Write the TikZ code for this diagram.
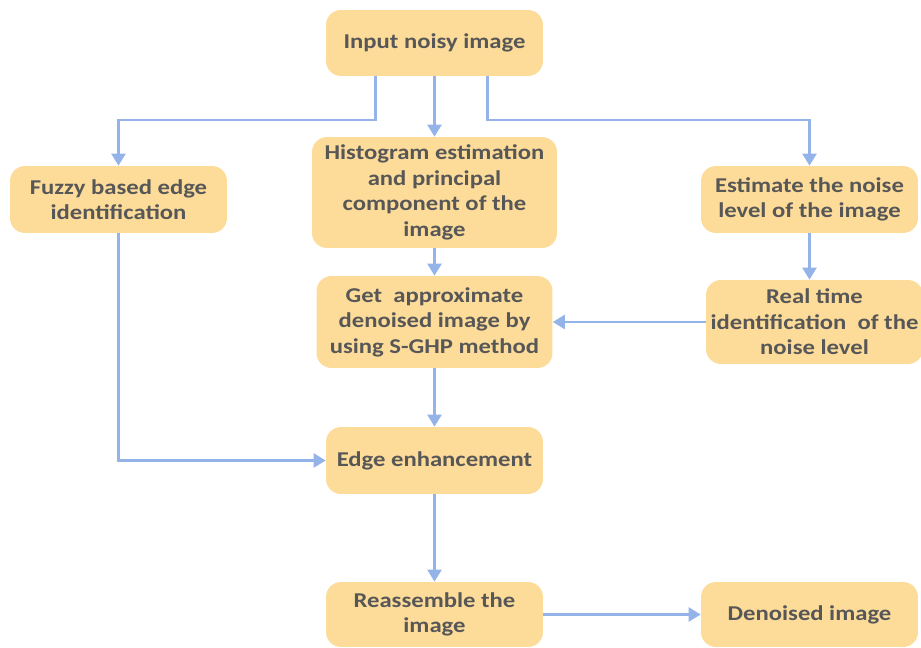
\documentclass[tikz,border=0pt]{standalone}
\usepackage{fontspec}
\setmainfont{Carlito}[FakeStretch=1.17]
\usetikzlibrary{arrows.meta}
\definecolor{boxfill}{HTML}{FDDC9A}
\definecolor{arrowblue}{HTML}{94B3E8}
\definecolor{textgray}{HTML}{575757}

\begin{document}
\begin{tikzpicture}[x=0.02cm,y=-0.02cm,
  box/.style={draw=none,fill=boxfill,rounded corners=0.3cm,align=center,
    text=textgray,font=\bfseries\fontsize{12}{14.5}\selectfont,inner sep=0},
  arr/.style={draw=arrowblue,line width=1.4pt,-{Triangle[length=0.24cm,width=0.28cm]}}]
\useasboundingbox (0,0) rectangle (921,648);

\node[box,minimum width=4.34cm,minimum height=1.32cm] (input) at (434.5,43) {Input noisy image};
\node[box,minimum width=4.34cm,minimum height=1.34cm] (fuzzy) at (118.5,199.5) {Fuzzy based edge\\identification};
\node[box,minimum width=4.9cm,minimum height=2.22cm] (hist) at (434.5,192.5) {Histogram estimation\\and principal\\component of the\\image};
\node[box,minimum width=4.34cm,minimum height=1.34cm] (est) at (809.5,199.5) {Estimate the noise\\level of the image};
\node[box,minimum width=4.72cm,minimum height=1.84cm] (ghp) at (434.5,322) {Get~ approximate\\denoised image by\\using S-GHP method};
\node[box,minimum width=4.34cm,minimum height=1.68cm] (real) at (814.5,322) {Real time\\identification~ of the\\noise level};
\node[box,minimum width=4.34cm,minimum height=1.34cm] (edge) at (434.5,460.5) {Edge enhancement};
\node[box,minimum width=4.34cm,minimum height=1.3cm] (reas) at (434.5,614.5) {Reassemble the\\image};
\node[box,minimum width=4.34cm,minimum height=1.3cm] (den) at (809.5,614.5) {Denoised image};

% branches from the input
\draw[arr] (input) -- (hist);
\draw[arr] (input.south) ++(-59,0) |- (118.5,120) -- (fuzzy);
\draw[arr] (input.south) ++(53,0) |- (809.5,120) -- (est);

\draw[arr] (hist) -- (ghp);
\draw[arr] (est.south) -- (est.south |- real.north);
\draw[arr] (real.west) -- (ghp.east);
\draw[arr] (ghp) -- (edge);
\draw[arr] (fuzzy.south) |- (edge.west);
\draw[arr] (edge) -- (reas);
\draw[arr] (reas) -- (den);
\end{tikzpicture}
\end{document}
